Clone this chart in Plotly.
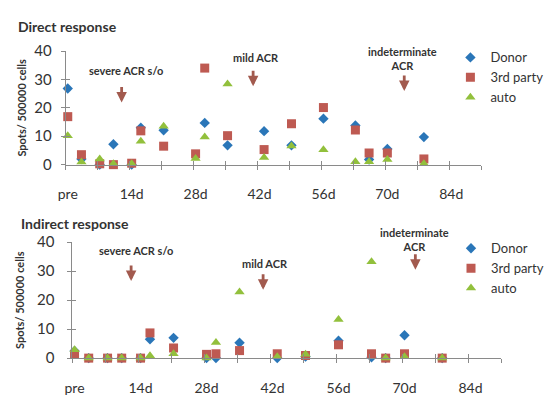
import plotly.graph_objects as go

# ---------------- data ----------------
days = [0, 3, 7, 10, 14, 16, 21, 28, 30, 35, 43, 49, 56, 63, 66, 70, 78]
tick_days = [0, 14, 28, 42, 56, 70, 84]
tick_text = ["pre", "14d", "28d", "42d", "56d", "70d", "84d"]
series_names = ["Donor", "3rd party", "auto"]

direct_donor = [26.8, 2.0, 0, 7.2, 0, 13.0, 12.1, None, 14.7, 6.8, 11.8, 6.8, 16.2, 13.8, 1.8, 5.5, 9.7]
direct_third = [16.9, 3.5, 0.3, 0, 0.5, 11.9, 6.5, 3.8, 34.0, 10.2, 5.3, 14.4, 20.1, 12.2, 4.1, 4.1, 2.0]
direct_auto = [10.2, 0.9, 2.0, 0.3, 0.3, 8.2, 13.5, 2.2, 9.7, 28.4, 2.5, 6.6, 5.2, 1.0, 1.0, 1.8, 0.3]

indirect_donor = [2.5, 0, 0, 0, 0, 6.5, 7.0, 0, 0, 5.3, 0, 0.5, 6.0, 0.3, 0, 7.9, 0]
indirect_third = [1.3, 0, 0, 0, 0, 8.7, 3.5, 1.3, 1.5, 2.6, 1.5, 0.9, 4.6, 1.5, 0, 1.5, 0]
indirect_auto = [2.9, 0, 0, 0, 0, 0.8, 1.5, 0, 5.4, 22.8, 0.5, 1.3, 13.3, 33.3, 0, 0.5, 0]

# events: (label, label day, label value, arrow day, arrow tip value)
direct_events = [("severe ACR s/o", 12.8, 33.3, 11.8, 21.9),
                 ("mild ACR", 41.2, 37.6, 40.6, 27.6),
                 ("indeterminate<br>ACR", 73.3, 37.3, 73.7, 25.9)]
indirect_events = [("severe ACR s/o", 13.0, 37.1, 12.0, 26.6),
                   ("mild ACR", 40.5, 32.8, 40.0, 23.6),
                   ("indeterminate<br>ACR", 72.2, 40.9, 72.3, 30.5)]

# ---------------- style ----------------
FONT = "Lato"
TXT = "#333333"
AX = "#8a8a8a"
colors = ["#2A76B8", "#BE5A52", "#92C03C"]
symbols = ["diamond", "square", "triangle-up"]
sizes = [8, 9, 9]
ARROW = "#a25a4e"

fig = go.Figure()

panels = [
    ("x", "y", "legend", [direct_donor, direct_third, direct_auto]),
    ("x2", "y2", "legend2", [indirect_donor, indirect_third, indirect_auto]),
]
for xa, ya, lg, vals in panels:
    for name, v, c, s, sz in zip(series_names, vals, colors, symbols, sizes):
        fig.add_trace(go.Scatter(
            x=days, y=v, mode="markers", name=name, xaxis=xa, yaxis=ya,
            legend=lg, cliponaxis=False,
            marker=dict(symbol=s, size=sz, color=c, line=dict(width=0)),
        ))

# empty traces so the overlay axes (inner half of the cross tick marks) are drawn
for xa, ya in [("x3", "y3"), ("x4", "y4")]:
    fig.add_trace(go.Scatter(x=[None], y=[None], xaxis=xa, yaxis=ya,
                             showlegend=False, hoverinfo="skip"))

W, H = 549, 396
top_x = [60 / W, 492 / W]
top_y = [(H - 162) / H, (H - 43) / H]
bot_x = [67 / W, 513 / W]
bot_y = [(H - 364.7) / H, (H - 243.3) / H]
XR = [-0.45, 90.55]
YR = [0, 40]
PX_PER_UNIT = (364.7 - 243.3) / 40  # bottom panel y scale, for labels above the top

def main_x(domain, anchor):
    return dict(domain=domain, anchor=anchor, range=XR, tickmode="array",
                tickvals=tick_days, ticktext=tick_text, ticks="outside",
                ticklen=17, tickcolor="rgba(0,0,0,0)",
                minor=dict(ticks="outside", tickmode="linear", tick0=-0.45,
                           dtick=7, ticklen=4, tickcolor=AX, showgrid=False),
                showline=True, linecolor=AX, linewidth=1,
                showgrid=False, zeroline=False,
                tickfont=dict(family=FONT, size=14, color=TXT))

def tick_x(over, anchor):
    return dict(overlaying=over, anchor=anchor, range=XR, tickmode="linear",
                tick0=-0.45, dtick=7, ticks="inside", ticklen=4, tickcolor=AX,
                showticklabels=False, showline=False, showgrid=False,
                zeroline=False, side="bottom")

def main_y(domain, anchor, standoff, title_standoff):
    return dict(domain=domain, anchor=anchor, range=YR, tickmode="linear",
                tick0=0, dtick=10, ticks="outside", ticklen=4, tickcolor=AX,
                ticklabelstandoff=standoff, showline=True, linecolor=AX,
                linewidth=1, showgrid=False, zeroline=False,
                tickfont=dict(family=FONT, size=15, color=TXT),
                title=dict(text="<b>Spots/ 500000 cells</b>", standoff=title_standoff,
                           font=dict(family=FONT, size=11, color=TXT)))

def tick_y(over, anchor):
    return dict(overlaying=over, anchor=anchor, range=YR, tickmode="linear",
                tick0=0, dtick=10, ticks="inside", ticklen=4, tickcolor=AX,
                showticklabels=False, showline=False, showgrid=False,
                zeroline=False, side="left")

annotations = [
    dict(text="<b>Direct response</b>", x=8 / W, y=(H - 17) / H, xref="paper",
         yref="paper", xanchor="left", yanchor="middle", showarrow=False,
         font=dict(family=FONT, size=14, color=TXT)),
    dict(text="<b>Indirect response</b>", x=11 / W, y=(H - 224) / H, xref="paper",
         yref="paper", xanchor="left", yanchor="middle", showarrow=False,
         font=dict(family=FONT, size=14, color=TXT)),
]
for xr, yr, events in [("x", "y", direct_events), ("x2", "y2", indirect_events)]:
    for label, lx, ly, axd, tipv in events:
        # labels above the axis range would be hidden: pin them at the top and shift
        y_in = min(ly, YR[1] - 0.1)
        shift = (ly - y_in) * PX_PER_UNIT
        annotations.append(dict(text="<b>%s</b>" % label, x=lx, y=y_in, yshift=shift,
                                xref=xr, yref=yr, showarrow=False,
                                font=dict(family=FONT, size=11, color=TXT)))
        annotations.append(dict(text="", x=axd, y=tipv, xref=xr, yref=yr,
                                showarrow=True, ax=0, ay=-17, arrowhead=2,
                                arrowsize=0.75, arrowwidth=2.8, arrowcolor=ARROW))

legend_style = dict(xanchor="left", yanchor="top",
                    font=dict(family=FONT, size=13, color=TXT),
                    bgcolor="rgba(0,0,0,0)", tracegroupgap=0, itemwidth=30)

fig.update_layout(
    width=W, height=H, margin=dict(l=0, r=0, t=0, b=0),
    paper_bgcolor="white", plot_bgcolor="white",
    font=dict(family=FONT, color=TXT),
    xaxis=main_x(top_x, "y"),
    xaxis2=main_x(bot_x, "y2"),
    xaxis3=tick_x("x", "y"),
    xaxis4=tick_x("x2", "y2"),
    yaxis=main_y(top_y, "x", 6, 5),
    yaxis2=main_y(bot_y, "x2", 10, 10),
    yaxis3=tick_y("y", "x"),
    yaxis4=tick_y("y2", "x2"),
    legend=dict(x=460 / W, y=(H - 34) / H, **legend_style),
    legend2=dict(x=461 / W, y=(H - 234) / H, **legend_style),
    annotations=annotations,
    showlegend=True,
)

fig.write_html("out.html")
